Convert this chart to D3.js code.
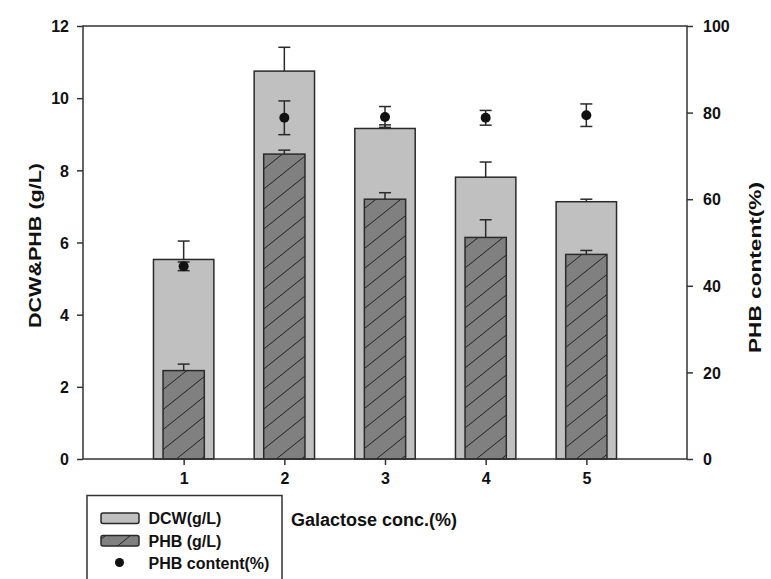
<!DOCTYPE html>
<html>
<head>
<meta charset="utf-8">
<script src="https://cdn.jsdelivr.net/npm/d3@7"></script>
<style>
  html, body { margin: 0; padding: 0; background: #fff; }
  svg { display: block; font-family: "Liberation Sans", Arial, sans-serif; }
  .axis text { font-family: "Liberation Sans", Arial, sans-serif; font-size: 16px; font-weight: bold; fill: #111; }
  .axis line, .axis path { stroke: #333; stroke-width: 1.5; }
</style>
</head>
<body>
<svg id="chart" width="771" height="579"></svg>
<script>
// Galactose concentration (%) on the x axis
const categories = [1, 2, 3, 4, 5];
// Dry cell weight (g/L) with upper error
const dcw = [5.53, 10.75, 9.16, 7.81, 7.13];
const dcwErr = [0.51, 0.66, 0.10, 0.42, 0.07];
// PHB concentration (g/L) with upper error
const phb = [2.45, 8.45, 7.20, 6.14, 5.67];
const phbErr = [0.18, 0.11, 0.18, 0.49, 0.11];
// PHB content (%) with symmetric error
const content = [44.5, 78.8, 79.0, 78.8, 79.4];
const contentErr = [1.0, 3.9, 2.4, 1.7, 2.6];
// Tick values
const leftTicks = [0, 2, 4, 6, 8, 10, 12];
const rightTicks = [0, 20, 40, 60, 80, 100];

const svg = d3.select("#chart");
const L = 83, R = 687, T = 26, B = 459;

const x = d3.scaleLinear().domain([0, 6]).range([L, R]);
const yL = d3.scaleLinear().domain([0, 12]).range([B, T]);
const yR = d3.scaleLinear().domain([0, 100]).range([B, T]);

const defs = svg.append("defs");
const pat = defs.append("pattern")
  .attr("id", "hatch").attr("patternUnits", "userSpaceOnUse")
  .attr("width", 25).attr("height", 20);
pat.append("rect").attr("width", 25).attr("height", 20).attr("fill", "#808080");
pat.append("path")
  .attr("d", "M-5,24 L30,-4")
  .attr("stroke", "#222").attr("stroke-width", 1);
pat.append("path")
  .attr("d", "M-5,4 L5,-4 M20,24 L30,16")
  .attr("stroke", "#222").attr("stroke-width", 1);

const dcwW = x(0.6) - x(0);
const phbW = x(0.41) - x(0);
const capW = 12;
const stroke = "#2a2a2a";

const data = categories.map((c, i) => ({
  c, dcw: dcw[i], dcwErr: dcwErr[i], phb: phb[i], phbErr: phbErr[i],
  content: content[i], contentErr: contentErr[i]
}));

const plot = svg.append("g");

// DCW bars
plot.selectAll(".dcw").data(data).join("rect")
  .attr("x", d => x(d.c) - dcwW / 2)
  .attr("y", d => yL(d.dcw))
  .attr("width", dcwW)
  .attr("height", d => yL(0) - yL(d.dcw))
  .attr("fill", "#c0c0c0").attr("stroke", stroke).attr("stroke-width", 1.5);

// upper error bars
function upErr(val, err) {
  const g = plot.append("g").attr("stroke", stroke).attr("stroke-width", 1.5);
  g.selectAll("line.v").data(data).join("line")
    .attr("x1", d => x(d.c)).attr("x2", d => x(d.c))
    .attr("y1", d => yL(d[val])).attr("y2", d => yL(d[val] + d[err]));
  g.selectAll("line.h").data(data).join("line")
    .attr("x1", d => x(d.c) - capW / 2).attr("x2", d => x(d.c) + capW / 2)
    .attr("y1", d => yL(d[val] + d[err])).attr("y2", d => yL(d[val] + d[err]));
}
upErr("dcw", "dcwErr");

// PHB bars (hatched)
plot.selectAll(".phb").data(data).join("rect")
  .attr("x", d => x(d.c) - phbW / 2)
  .attr("y", d => yL(d.phb))
  .attr("width", phbW)
  .attr("height", d => yL(0) - yL(d.phb))
  .attr("fill", "url(#hatch)").attr("stroke", stroke).attr("stroke-width", 1.5);
upErr("phb", "phbErr");

// PHB content points with error bars on right axis
const pts = plot.append("g");
pts.selectAll("line.v").data(data).join("line")
  .attr("stroke", stroke).attr("stroke-width", 1.5)
  .attr("x1", d => x(d.c)).attr("x2", d => x(d.c))
  .attr("y1", d => yR(d.content - d.contentErr)).attr("y2", d => yR(d.content + d.contentErr));
[-1, 1].forEach(s => {
  pts.append("g").selectAll("line").data(data).join("line")
    .attr("stroke", stroke).attr("stroke-width", 1.5)
    .attr("x1", d => x(d.c) - capW / 2).attr("x2", d => x(d.c) + capW / 2)
    .attr("y1", d => yR(d.content + s * d.contentErr))
    .attr("y2", d => yR(d.content + s * d.contentErr));
});
pts.selectAll("circle").data(data).join("circle")
  .attr("cx", d => x(d.c)).attr("cy", d => yR(d.content))
  .attr("r", 5).attr("fill", "#111");

// frame
svg.append("rect").attr("x", L).attr("y", T).attr("width", R - L).attr("height", B - T)
  .attr("fill", "none").attr("stroke", "#333").attr("stroke-width", 1.5);

// axes
svg.append("g").attr("class", "axis").attr("transform", `translate(${L},0)`)
  .call(d3.axisLeft(yL).tickValues(leftTicks).tickSize(6).tickSizeOuter(0).tickPadding(8))
  .call(g => g.select(".domain").remove())
  .selectAll("text").attr("dy", "0.36em");
svg.append("g").attr("class", "axis").attr("transform", `translate(${R},0)`)
  .call(d3.axisRight(yR).tickValues(rightTicks).tickSize(6).tickSizeOuter(0).tickPadding(10))
  .call(g => g.select(".domain").remove())
  .selectAll("text").attr("dy", "0.36em");
svg.append("g").attr("class", "axis").attr("transform", `translate(0,${B})`)
  .call(d3.axisBottom(x).tickValues(categories).tickFormat(d3.format("d"))
    .tickSize(6).tickSizeOuter(0).tickPadding(8))
  .call(g => g.select(".domain").remove());

// axis titles
svg.append("text")
  .attr("transform", "translate(41,245.5) rotate(-90)")
  .attr("text-anchor", "middle")
  .attr("textLength", 165).attr("lengthAdjust", "spacingAndGlyphs")
  .attr("font-size", 16).attr("font-weight", "bold").attr("fill", "#111")
  .text("DCW&PHB (g/L)");
svg.append("text")
  .attr("transform", "translate(761,267.5) rotate(-90)")
  .attr("text-anchor", "middle")
  .attr("textLength", 171).attr("lengthAdjust", "spacingAndGlyphs")
  .attr("font-size", 16).attr("font-weight", "bold").attr("fill", "#111")
  .text("PHB content(%)");
svg.append("text")
  .attr("x", 291).attr("y", 526)
  .attr("font-size", 18).attr("font-weight", "bold").attr("fill", "#111")
  .text("Galactose conc.(%)");

// legend
const lg = svg.append("g");
lg.append("rect").attr("x", 87).attr("y", 495.5).attr("width", 195).attr("height", 120)
  .attr("fill", "#fff").attr("stroke", "#333").attr("stroke-width", 1.5);
const legendItems = [
  { label: "DCW(g/L)", kind: "dcw" },
  { label: "PHB (g/L)", kind: "phb" },
  { label: "PHB content(%)", kind: "dot" }
];
legendItems.forEach((it, i) => {
  const base = 524 + i * 22.5;
  if (it.kind === "dot") {
    lg.append("circle").attr("cx", 119.5).attr("cy", base - 6.5).attr("r", 4.5).attr("fill", "#111");
  } else {
    lg.append("rect").attr("x", 101).attr("y", base - 11).attr("width", 38).attr("height", 10.5)
      .attr("rx", 2)
      .attr("fill", it.kind === "dcw" ? "#c0c0c0" : "url(#hatch)")
      .attr("stroke", stroke).attr("stroke-width", 1.5);
  }
  lg.append("text").attr("x", 148.5).attr("y", base)
    .attr("font-size", 16).attr("font-weight", "bold").attr("fill", "#111")
    .text(it.label);
});
</script>
</body>
</html>
